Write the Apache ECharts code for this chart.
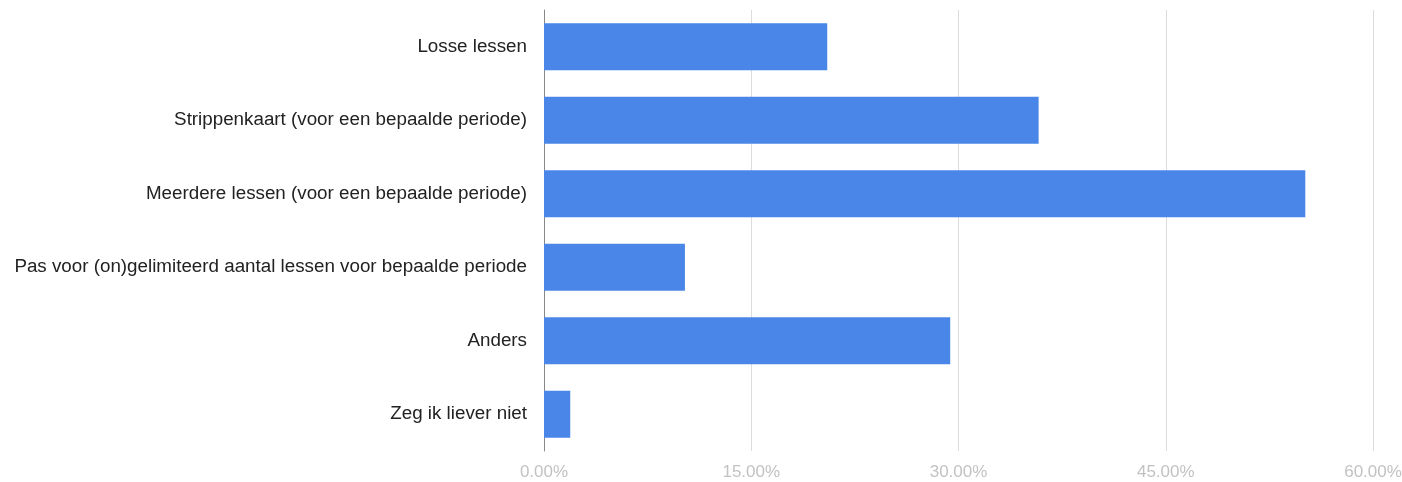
<!DOCTYPE html>
<html>
<head>
<meta charset="utf-8">
<script src="https://cdn.jsdelivr.net/npm/echarts@6/dist/echarts.min.js"></script>
<style>html,body{margin:0;padding:0;background:#fff}#c{width:1402px;height:482px}</style>
</head>
<body>
<div id="c"></div>
<script>
const categories = ["Losse lessen","Strippenkaart (voor een bepaalde periode)","Meerdere lessen (voor een bepaalde periode)","Pas voor (on)gelimiteerd aantal lessen voor bepaalde periode","Anders","Zeg ik liever niet"];
const values = [20.5, 35.8, 55.1, 10.2, 29.4, 1.9];
const xTicks = [0, 15, 30, 45, 60];

const chart = echarts.init(document.getElementById('c'), null, {renderer:'canvas'});
chart.setOption({
  animation: false,
  grid: {left: 544, right: 29, top: 10, bottom: 31, containLabel: false, outerBoundsMode: 'none'},
  xAxis: {
    type: 'value', min: xTicks[0], max: xTicks[xTicks.length-1], interval: 15,
    axisLine: {show: false}, axisTick: {show: false},
    splitLine: {lineStyle: {color: '#dcdcdc', width: 1}},
    axisLabel: {color: '#c2c2c2', fontSize: 17, fontFamily: 'Liberation Sans, Arial, sans-serif', margin: 13,
      formatter: v => v.toFixed(2) + '%'}
  },
  yAxis: {
    type: 'category', data: categories, inverse: true,
    axisLine: {show: true, lineStyle: {color: '#888', width: 1}},
    axisTick: {show: false},
    axisLabel: {color: '#222', fontSize: 18.8, fontFamily: 'Liberation Sans, Arial, sans-serif', margin: 17}
  },
  series: [{
    type: 'bar', data: values, barCategoryGap: '36%',
    itemStyle: {color: '#4a86e8'}
  }]
});
</script>
</body>
</html>
